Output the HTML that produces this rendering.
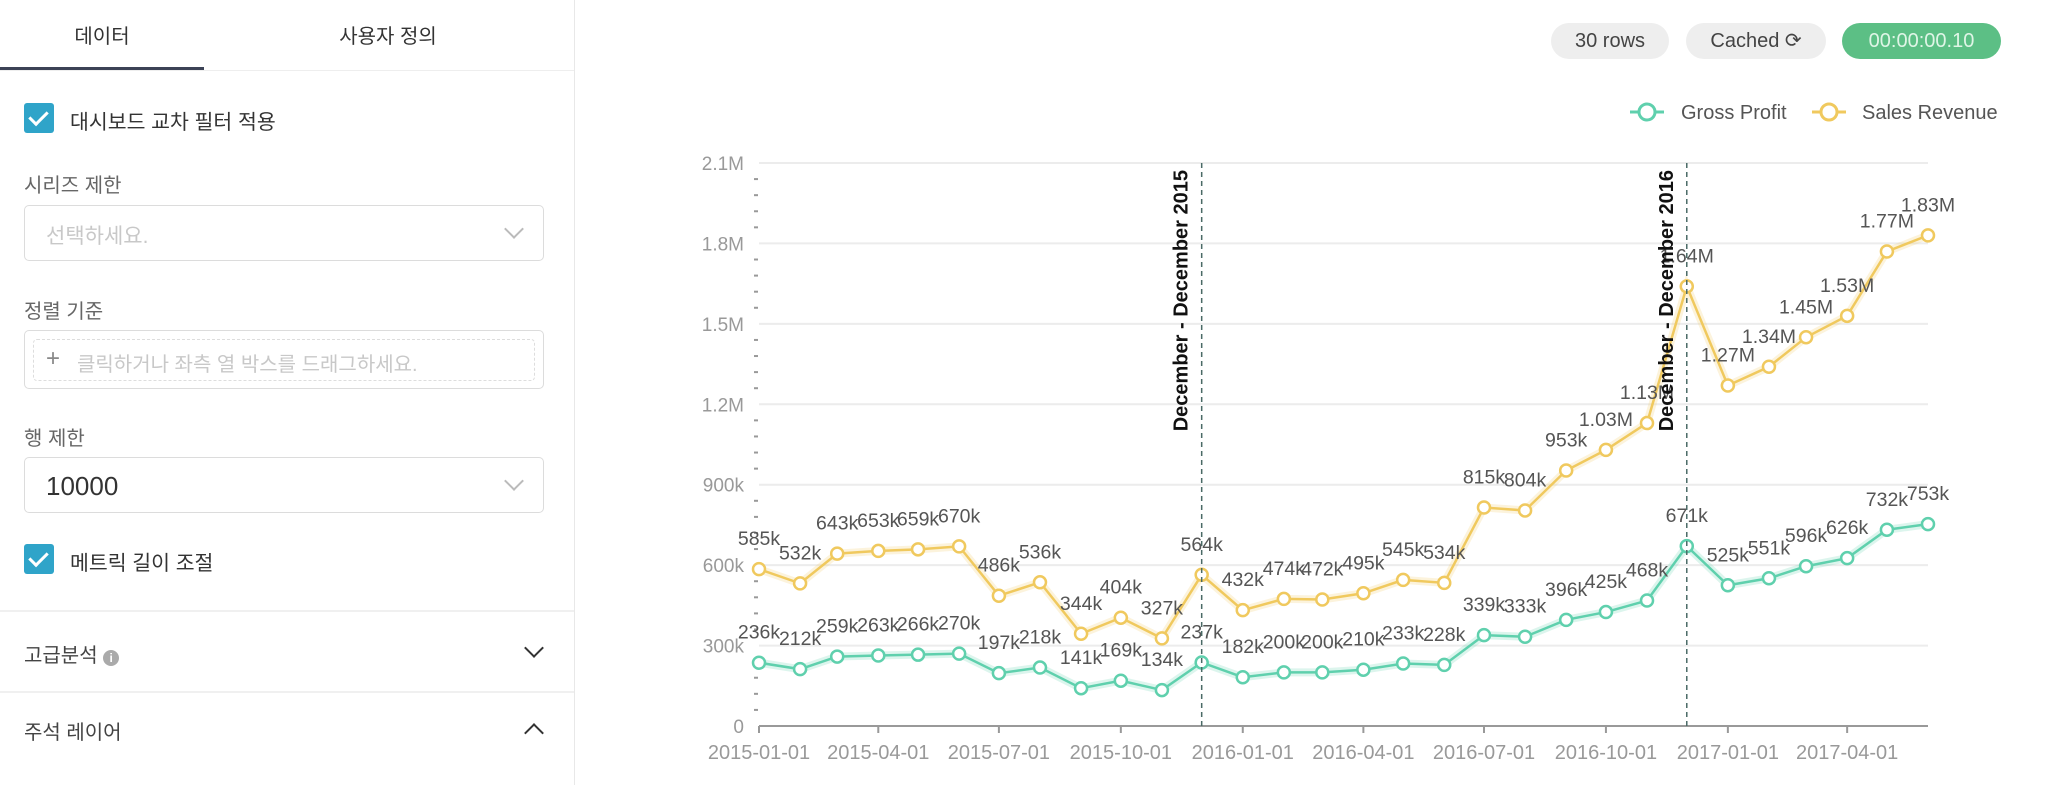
<!DOCTYPE html>
<html><head><meta charset="utf-8">
<style>
body{margin:0;width:2048px;height:785px;background:#fff;font-family:"Liberation Sans","Noto Sans CJK KR",sans-serif;overflow:hidden;position:relative}
.abs{position:absolute}
.side{left:0;top:0;width:574px;height:785px;border-right:1px solid #e8e8e8}
.lbl{font-size:20px;color:#666}
.box{border:1px solid #dcdcdc;border-radius:5px;left:24px;width:520px;box-sizing:border-box}
.chev{width:12px;height:12px;border-right:2px solid #bbb;border-bottom:2px solid #bbb;transform:rotate(45deg)}
.cb{width:30px;height:30px;background:#2fa4c9;border-radius:3px}
.cb:after{content:"";position:absolute;left:9px;top:4px;width:8px;height:15px;border-right:3px solid #fff;border-bottom:3px solid #fff;transform:rotate(45deg)}
.badge{top:23px;height:36px;border-radius:18px;font-size:20px;text-align:center;line-height:36px}
</style></head><body>
<div class="abs side">
  <div class="abs" style="left:0;top:0;width:574px;height:70px;border-bottom:1px solid #eee"></div>
  <div class="abs" style="left:0;top:20px;width:204px;text-align:center;font-size:20px;color:#333">데이터</div>
  <div class="abs" style="left:0;top:67px;width:204px;height:3px;background:#3c4256"></div>
  <div class="abs" style="left:280px;top:20px;width:216px;text-align:center;font-size:20px;color:#333">사용자 정의</div>
  <div class="abs cb" style="left:24px;top:103px"></div>
  <div class="abs" style="left:70px;top:105px;font-size:20.5px;color:#333">대시보드 교차 필터 적용</div>
  <div class="abs lbl" style="left:24px;top:169px">시리즈 제한</div>
  <div class="abs box" style="top:205px;height:56px">
    <div class="abs" style="left:21px;top:14px;font-size:21px;color:#c8c8c8">선택하세요.</div>
    <div class="abs chev" style="right:22px;top:16px"></div></div>
  <div class="abs lbl" style="left:24px;top:295px">정렬 기준</div>
  <div class="abs box" style="top:330px;height:59px">
    <div class="abs" style="left:8px;top:8px;width:500px;height:40px;border:1px dashed #ddd;border-radius:4px">
      <div class="abs" style="left:12px;top:5px;font-size:24px;color:#888">+</div>
      <div class="abs" style="left:43px;top:8px;font-size:20px;color:#c8c8c8">클릭하거나 좌측 열 박스를 드래그하세요.</div></div></div>
  <div class="abs lbl" style="left:24px;top:422px">행 제한</div>
  <div class="abs box" style="top:457px;height:56px">
    <div class="abs" style="left:21px;top:13px;font-size:26px;color:#333">10000</div>
    <div class="abs chev" style="right:22px;top:16px"></div></div>
  <div class="abs cb" style="left:24px;top:544px"></div>
  <div class="abs" style="left:70px;top:546px;font-size:20.5px;color:#333">메트릭 길이 조절</div>
  <div class="abs" style="left:0;top:610px;width:574px;height:2px;background:#f0f0f0"></div>
  <div class="abs" style="left:24px;top:639px;font-size:20px;color:#444">고급분석 <span style="display:inline-block;width:16px;height:16px;border-radius:50%;background:#aaa;color:#fff;font-size:12px;text-align:center;line-height:16px;font-weight:bold">i</span></div>
  <div class="abs" style="left:527px;top:641px;width:12px;height:12px;border-right:2px solid #333;border-bottom:2px solid #333;transform:rotate(45deg)"></div>
  <div class="abs" style="left:0;top:691px;width:574px;height:2px;background:#f0f0f0"></div>
  <div class="abs" style="left:24px;top:716px;font-size:20px;color:#444">주석 레이어</div>
  <div class="abs" style="left:527px;top:726px;width:12px;height:12px;border-left:2px solid #333;border-top:2px solid #333;transform:rotate(45deg)"></div>
</div>
<div class="abs badge" style="left:1551px;width:118px;background:#eee;color:#444">30 rows</div>
<div class="abs badge" style="left:1686px;width:140px;background:#eee;color:#444">Cached ⟳</div>
<div class="abs badge" style="left:1842px;width:159px;background:#5cbf85;color:#dff5e6">00:00:00.10</div>
<svg class="abs" style="left:0;top:0" width="2048" height="785" id="chart"></svg>
<script>
const dates=["2015-01-01","2015-02-01","2015-03-01","2015-04-01","2015-05-01","2015-06-01","2015-07-01","2015-08-01","2015-09-01","2015-10-01","2015-11-01","2015-12-01","2016-01-01","2016-02-01","2016-03-01","2016-04-01","2016-05-01","2016-06-01","2016-07-01","2016-08-01","2016-09-01","2016-10-01","2016-11-01","2016-12-01","2017-01-01","2017-02-01","2017-03-01","2017-04-01","2017-05-01","2017-06-01"];
const grossProfit=[236,212,259,263,266,270,197,218,141,169,134,237,182,200,200,210,233,228,339,333,396,425,468,671,525,551,596,626,732,753];
const salesRevenue=[585,532,643,653,659,670,486,536,344,404,327,564,432,474,472,495,545,534,815,804,953,1030,1130,1640,1270,1340,1450,1530,1770,1830];
const yTicks=[0,300,600,900,1200,1500,1800,2100];
const xTicks=["2015-01-01","2015-04-01","2015-07-01","2015-10-01","2016-01-01","2016-04-01","2016-07-01","2016-10-01","2017-01-01","2017-04-01"];
const annotations=[{date:"2015-12-01",label:"December - December 2015"},{date:"2016-12-01",label:"December - December 2016"}];
const svg=document.getElementById('chart');const NS="http://www.w3.org/2000/svg";
const t0=Date.parse(dates[0]),t1=Date.parse(dates[dates.length-1]);
const X0=759,X1=1928,Y0=726,Y1=163;
const x=d=>X0+(Date.parse(d)-t0)/(t1-t0)*(X1-X0);
const y=v=>Y0-v/2100*(Y0-Y1);
function el(tag,attrs,txt){const e=document.createElementNS(NS,tag);for(const k in attrs)e.setAttribute(k,attrs[k]);if(txt!=null)e.textContent=txt;svg.appendChild(e);return e;}
const fmt=v=>v>=1000?(v/1000).toFixed(2)+"M":v+"k";
const tickFmt=v=>v===0?"0":v>=1000?(v/1000).toFixed(1)+"M":v+"k";
yTicks.forEach(v=>{
  if(v>0){const g=el('line',{x1:X0,x2:X1,y1:y(v),y2:y(v),stroke:'#ececec','stroke-width':2});
  }
  const t=el('text',{x:744,y:y(v)+7,'text-anchor':'end','font-size':19,fill:'#999'},tickFmt(v));
  
});
for(let v=60;v<2100;v+=60){if(v%300===0)continue;const m=el('line',{x1:754,x2:758,y1:y(v),y2:y(v),stroke:'#999','stroke-width':2});
}
const ax=el('line',{x1:X0,x2:X1,y1:Y0,y2:Y0,stroke:'#999','stroke-width':2});

xTicks.forEach(d=>{const tk=el('line',{x1:x(d),x2:x(d),y1:Y0,y2:Y0+7,stroke:'#999','stroke-width':2});

const t=el('text',{x:x(d),y:759,'text-anchor':'middle','font-size':20,fill:'#999'},d);
});
function series(vals,color,name){
  const pts=vals.map((v,i)=>x(dates[i])+","+y(v)).join(" ");
  const glow=el('polyline',{points:pts,fill:'none',stroke:color,'stroke-opacity':0.22,'stroke-width':8});
  
  const l=el('polyline',{points:pts,fill:'none',stroke:color,'stroke-width':2.5});
  
  vals.forEach((v,i)=>{const c=el('circle',{cx:x(dates[i]),cy:y(v),r:6,fill:'#fff',stroke:color,'stroke-width':2.5});
  
  const t=el('text',{x:x(dates[i]),y:y(v)-24,'text-anchor':'middle','font-size':19.5,fill:'#555'},fmt(v));
  });
}
series(salesRevenue,'#f0c95e','sales-revenue');
series(grossProfit,'#5fd0ad','gross-profit');
annotations.forEach((a,i)=>{const ax_=x(a.date);
const l=el('line',{x1:ax_,x2:ax_,y1:Y1,y2:Y0,stroke:'#4a6a66','stroke-width':1.5,'stroke-dasharray':'5,4'});

const t=el('text',{x:0,y:0,transform:`translate(${ax_-14},170) rotate(-90)`,'text-anchor':'end','font-size':20,'font-weight':'bold',fill:'#111'},a.label);
});
[[1647,1681,'#5fd0ad','Gross Profit','legend-gross-profit'],[1829,1862,'#f0c95e','Sales Revenue','legend-sales-revenue']].forEach(L=>{
const ln=el('line',{x1:L[0]-17,x2:L[0]+17,y1:112,y2:112,stroke:L[2],'stroke-width':3});

const c=el('circle',{cx:L[0],cy:112,r:8,fill:'#fff',stroke:L[2],'stroke-width':3});

const t=el('text',{x:L[1],y:119,'font-size':20,fill:'#555'},L[3]);
});
</script>
</body></html>
